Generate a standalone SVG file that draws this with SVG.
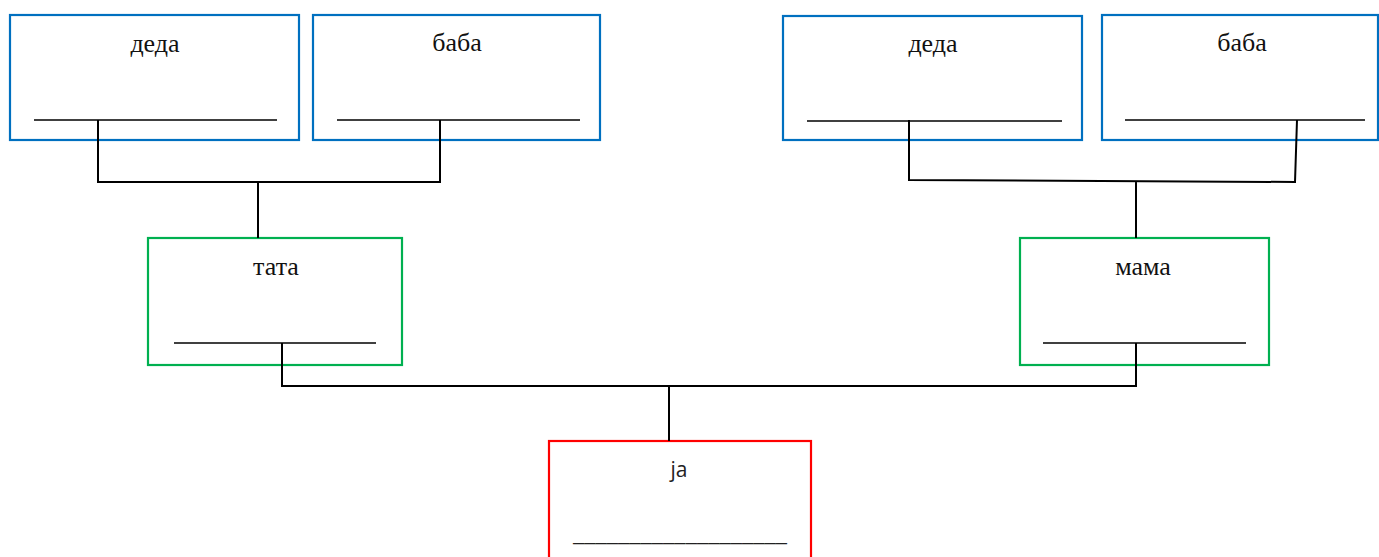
<svg xmlns="http://www.w3.org/2000/svg" width="1379" height="557" viewBox="0 0 1379 557">
<style>
.box{fill:#fff;stroke-width:2.2}
.blue{stroke:#0070C0}
.green{stroke:#00B050}
.red{stroke:#FF0000}
.ul{stroke:#000;stroke-width:1.3}
.lbl{font-family:"Liberation Serif","Times New Roman",serif;font-size:26px;fill:#111;text-anchor:middle}
.sans{font-family:"Open Sans","Liberation Sans",sans-serif;font-size:21px;fill:#222;text-anchor:middle}
.conn{stroke:#000;stroke-width:2;fill:none}
</style>
<g id="deda1">
<rect class="box blue" x="10" y="15" width="289" height="125"/>
<text class="lbl" x="155" y="52">деда</text>
<line class="ul" x1="34" y1="120" x2="277" y2="120"/>
</g>
<g id="baba1">
<rect class="box blue" x="313" y="15" width="287" height="125"/>
<text class="lbl" x="457" y="51">баба</text>
<line class="ul" x1="337" y1="120" x2="580" y2="120"/>
</g>
<g id="deda2">
<rect class="box blue" x="783" y="16" width="299" height="124"/>
<text class="lbl" x="933" y="52">деда</text>
<line class="ul" x1="807" y1="121" x2="1062" y2="121"/>
</g>
<g id="baba2">
<rect class="box blue" x="1102" y="15" width="276" height="125"/>
<text class="lbl" x="1242" y="51">баба</text>
<line class="ul" x1="1125" y1="120" x2="1365" y2="120"/>
</g>
<g id="tata">
<rect class="box green" x="148" y="238" width="254" height="127"/>
<text class="lbl" x="276" y="275">тата</text>
<line class="ul" x1="174" y1="343" x2="376" y2="343"/>
</g>
<g id="mama">
<rect class="box green" x="1020" y="238" width="249" height="127"/>
<text class="lbl" x="1143" y="275">мама</text>
<line class="ul" x1="1043" y1="343" x2="1246" y2="343"/>
</g>
<g id="ja">
<rect class="box red" x="549" y="441" width="262" height="130"/>
<text class="sans" x="679" y="477">ја</text>
<text class="sans" x="680" y="541" textLength="214" lengthAdjust="spacingAndGlyphs">___________________</text>
</g>
<g id="connectors">
<path class="conn" d="M98 120V182H440V120M258 182V238"/>
<path class="conn" d="M909 120V180L1295 182L1297 120M1136 181V238"/>
<path class="conn" d="M282 343V386H1136V343M669 386V441"/>
</g>
</svg>
